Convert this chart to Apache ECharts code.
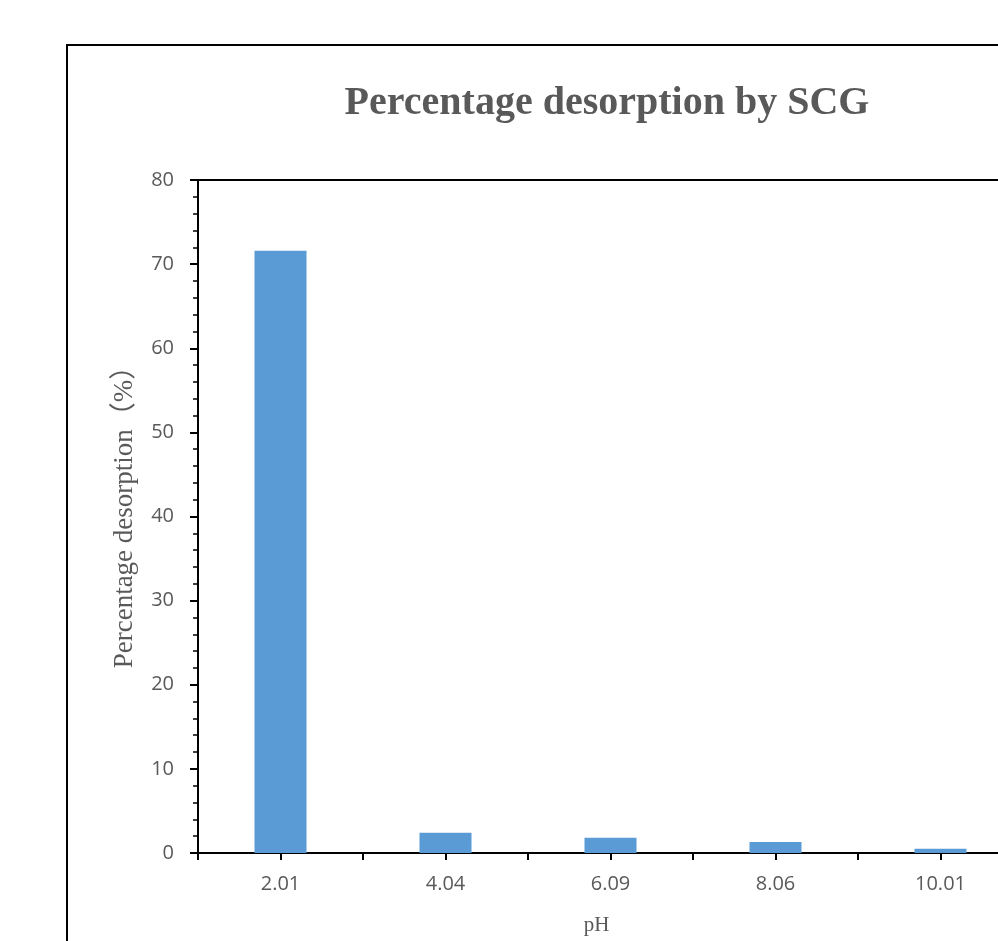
<!DOCTYPE html>
<html>
<head>
<meta charset="utf-8">
<script src="https://cdn.jsdelivr.net/npm/echarts@6/dist/echarts.min.js"></script>
<style>html,body{margin:0;padding:0;background:#fff;}#c{width:998px;height:941px;}</style>
</head>
<body>
<div id="c"></div>
<script>
const categories = ['2.01', '4.04', '6.09', '8.06', '10.01'];
const desorption = [71.6, 2.4, 1.8, 1.3, 0.5];
const yTicks = [0, 10, 20, 30, 40, 50, 60, 70, 80];

const chart = echarts.init(document.getElementById('c'));
const gray = '#595959';
const gridL = 198, gridT = 180, gridW = 825, gridH = 673;
chart.setOption({
  animation: false,
  backgroundColor: '#fff',
  title: {
    text: 'Percentage desorption by SCG',
    left: 602, top: 79, textAlign: 'center',
    textStyle: { fontFamily: 'Liberation Serif', fontWeight: 'bold', fontSize: 40, color: gray }
  },
  graphic: [
    { type: 'rect', shape: { x: 67, y: 45, width: 1100, height: 1100 },
      style: { fill: 'none', stroke: '#000', lineWidth: 2 }, z: 0 },
    { type: 'line', shape: { x1: gridL, y1: gridT, x2: gridL + gridW, y2: gridT },
      style: { stroke: '#000', lineWidth: 2 }, z: 10 }
  ],
  grid: { left: gridL, top: gridT, width: gridW, height: gridH,
          containLabel: false, outerBoundsMode: 'none' },
  xAxis: [
    {
      type: 'category', data: categories,
      axisLine: { lineStyle: { color: '#000', width: 2 } },
      axisTick: { show: true, length: 7, lineStyle: { color: '#000', width: 2 } },
      axisLabel: { color: gray, fontFamily: 'Open Sans', fontSize: 20, margin: 21 },
      name: 'pH', nameLocation: 'middle', nameGap: 62,
      nameTextStyle: { fontFamily: 'Liberation Serif', fontSize: 21, color: gray, padding: [0, 28, 0, 0] }
    },
    {
      type: 'category', data: categories, position: 'bottom',
      axisLine: { show: false },
      axisTick: { show: true, alignWithLabel: true, length: 7, lineStyle: { color: '#000', width: 2 } },
      axisLabel: { show: false }
    }
  ],
  yAxis: {
    type: 'value', min: 0, max: 80, interval: 10,
    axisLine: { show: true, lineStyle: { color: '#000', width: 2 } },
    axisTick: { show: true, length: 8, lineStyle: { color: '#000', width: 2 } },
    minorTick: { show: true, splitNumber: 5, length: 5, lineStyle: { color: '#000', width: 1.5 } },
    splitLine: { show: false },
    axisLabel: {
      color: gray, fontFamily: 'Open Sans', fontSize: 20, margin: 24,
      formatter: v => yTicks.includes(v) ? String(v) : ''
    },
    name: 'Percentage desorption（%）', nameLocation: 'middle', nameGap: 60,
    nameTextStyle: { fontFamily: 'Liberation Serif, Noto Sans CJK SC', fontSize: 27, color: gray, padding: [0, 0, 0, 12] }
  },
  series: [{
    type: 'bar', data: desorption, barWidth: 52, xAxisIndex: 0,
    itemStyle: { color: '#5B9BD5' }
  }]
});
</script>
</body>
</html>
